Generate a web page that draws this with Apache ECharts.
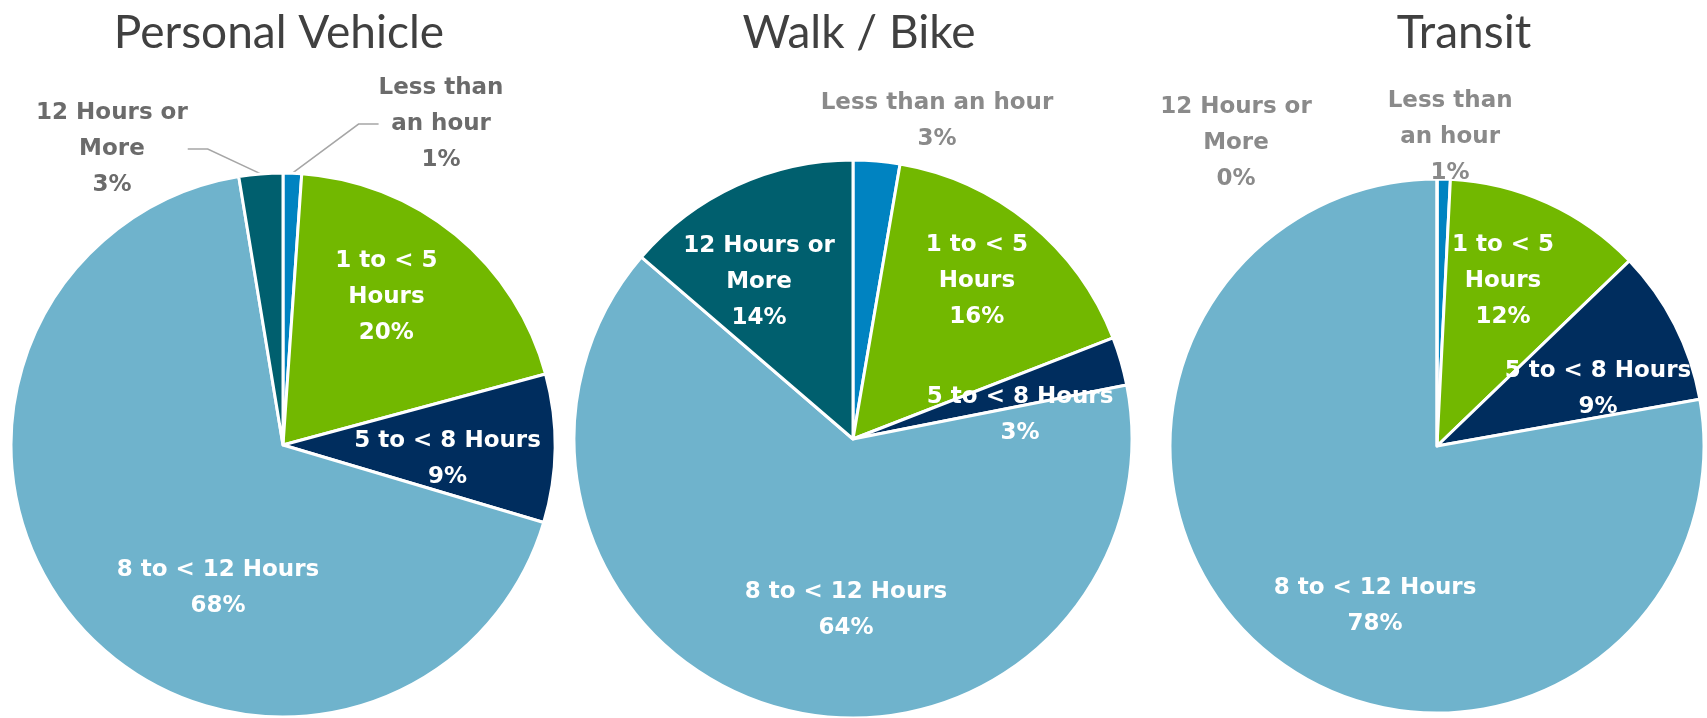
<!DOCTYPE html>
<html>
<head>
<meta charset="utf-8">
<script src="https://cdn.jsdelivr.net/npm/echarts@6/dist/echarts.min.js"></script>
<style>
html, body { margin: 0; padding: 0; background: #fff; }
#main { width: 1707px; height: 718px; }
</style>
</head>
<body>
<div id="main"></div>
<script>
// categories and slice colours (same order in every pie, clockwise from 12 o'clock)
var categories = ['Less than an hour', '1 to < 5 Hours', '5 to < 8 Hours', '8 to < 12 Hours', '12 Hours or More'];
var colors = ['#0083C1', '#72B800', '#002D5E', '#6FB3CC', '#005F6E'];
var titles = ['Personal Vehicle', 'Walk / Bike', 'Transit'];

// shares in percent
var personalVehicle = [1.1, 19.7, 8.8, 67.8, 2.6];
var walkBike = [2.7, 16.4, 2.8, 64.4, 13.7];
var transit = [0.8, 12.0, 9.4, 77.8, 0];

// label text as wrapped in each pie
var labelNames = [
  ['Less than\nan hour', '1 to < 5\nHours', '5 to < 8 Hours', '8 to < 12 Hours', '12 Hours or\nMore'],
  ['Less than an hour', '1 to < 5\nHours', '5 to < 8 Hours', '8 to < 12 Hours', '12 Hours or\nMore'],
  ['Less than\nan hour', '1 to < 5\nHours', '5 to < 8 Hours', '8 to < 12 Hours', '12 Hours or\nMore']
];
var outside = [
  [true, false, false, false, true],
  [true, false, false, false, false],
  [true, false, false, false, true]
];

var dom = document.getElementById('main');
var myChart = echarts.init(dom);

var pies = [
  { cx: 283, cy: 445, r: 272, titleX: 274, grey: '#6b6b6b', lines: true },
  { cx: 853, cy: 439, r: 279, titleX: 854, grey: '#8a8a8a', lines: false },
  { cx: 1437, cy: 446, r: 267, titleX: 1459, grey: '#8a8a8a', lines: false }
];
// label centres, as fractions of the radius from the pie centre
var labelSpots = [
  [[0.581, -1.180], [0.380, -0.544], [0.605, 0.050], [-0.239, 0.526], [-0.629, -1.088]],
  [[0.301, -1.140], [0.444, -0.566], [0.599, -0.086], [-0.025, 0.613], [-0.337, -0.563]],
  [[0.049, -1.157], [0.247, -0.618], [0.603, -0.213], [-0.232, 0.599], [-0.753, -1.135]]
];

var seriesData = [personalVehicle, walkBike, transit];

var option = {
  animation: false,
  title: titles.map(function (t, i) {
    return {
      text: t,
      left: pies[i].titleX,
      top: 1,
      textAlign: 'center',
      textStyle: {
        fontFamily: 'Lato',
        fontWeight: 'normal',
        fontSize: 46,
        lineHeight: 54,
        color: '#404040'
      }
    };
  }),
  series: seriesData.map(function (values, s) {
    var p = pies[s];
    return {
      type: 'pie',
      center: [p.cx, p.cy],
      radius: p.r,
      startAngle: 90,
      clockwise: true,
      avoidLabelOverlap: false,
      emphasis: { disabled: true },
      itemStyle: { borderColor: '#fff', borderWidth: 3 },
      label: {
        formatter: function (params) {
          return labelNames[s][params.dataIndex] + '\n' + Math.round(params.value) + '%';
        },
        fontFamily: 'DejaVu Sans',
        fontWeight: 'bold',
        fontSize: 23,
        lineHeight: 36,
        align: 'center'
      },
      labelLayout: function (params) {
        var spot = labelSpots[s][params.dataIndex];
        return {
          x: p.cx + spot[0] * p.r,
          y: p.cy + spot[1] * p.r,
          align: 'center',
          verticalAlign: 'middle'
        };
      },
      data: values.map(function (v, i) {
        var out = outside[s][i];
        return {
          name: categories[i],
          value: v,
          itemStyle: { color: colors[i] },
          label: { position: out ? 'outside' : 'inside', color: out ? p.grey : '#fff' },
          labelLine: {
            show: out && p.lines,
            length: 20,
            length2: 20,
            lineStyle: { color: '#a6a6a6', width: 1.5 }
          }
        };
      })
    };
  })
};

if (option && typeof option === 'object') {
  myChart.setOption(option);
}
</script>
</body>
</html>
